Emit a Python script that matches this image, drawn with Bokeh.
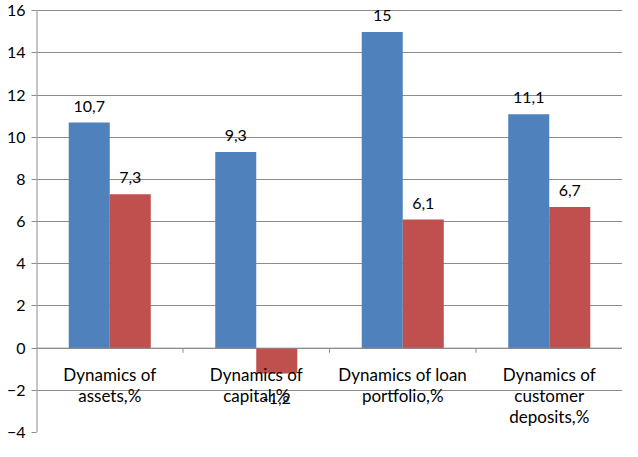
from bokeh.plotting import figure
from bokeh.models import Range1d, ColumnDataSource, FixedTicker
from bokeh.embed import file_html
from bokeh.resources import INLINE
from bokeh.core.properties import value

categories = ["Dynamics of\nassets,%", "Dynamics of\ncapital,%", "Dynamics of loan\nportfolio,%", "Dynamics of\ncustomer\ndeposits,%"]
series_a = [10.7, 9.3, 15, 11.1]
series_b = [7.3, -1.2, 6.1, 6.7]
y_ticks = [-4, -2, 0, 2, 4, 6, 8, 10, 12, 14, 16]

BLUE = "#4F81BD"
RED = "#C0504D"
GRID = "#8C8C8C"
FONT = "Lato"

def fmt(v):
    return ("%g" % v).replace(".", ",")

n = len(categories)
centers = [i + 0.5 for i in range(n)]
bw = 0.28
ymin, ymax = y_ticks[0], y_ticks[-1]

p = figure(width=622, height=441, x_range=Range1d(0, n), y_range=Range1d(ymin, ymax + 0.3),
           output_backend="svg", toolbar_location=None,
           min_border_left=36, min_border_right=0, min_border_top=4, min_border_bottom=9)
p.outline_line_color = None
p.xaxis.visible = False
p.xgrid.visible = False
p.ygrid.grid_line_color = GRID
p.ygrid.grid_line_width = 1
p.yaxis.ticker = FixedTicker(ticks=y_ticks)
p.yaxis.axis_line_color = None
p.yaxis.major_tick_line_color = GRID
p.yaxis.major_tick_out = 5
p.yaxis.major_tick_in = 0
p.yaxis.minor_tick_line_color = None
p.yaxis.major_label_text_font = FONT
p.yaxis.major_label_text_font_size = "16px"
p.yaxis.major_label_text_color = "black"
p.yaxis.major_label_standoff = 6

# vertical axis line spanning the tick range
p.segment(x0=[0], y0=[ymin], x1=[0], y1=[ymax], line_color=GRID, line_width=2)

src_a = ColumnDataSource(dict(x=[c - bw / 2 for c in centers], top=series_a,
                              lab=[fmt(v) for v in series_a]))
src_b = ColumnDataSource(dict(x=[c + bw / 2 for c in centers], top=series_b,
                              lab=[fmt(v) for v in series_b]))
p.vbar(x="x", top="top", bottom=0, width=bw, source=src_a, fill_color=BLUE, line_color=None)
p.vbar(x="x", top="top", bottom=0, width=bw, source=src_b, fill_color=RED, line_color=None)

# zero axis line
p.segment(x0=[0], y0=[0], x1=[n], y1=[0], line_color=GRID, line_width=1)
# category tick marks
bounds = list(range(1, n))
p.segment(x0=bounds, y0=[0] * len(bounds), x1=bounds, y1=[-0.22] * len(bounds),
          line_color=GRID, line_width=1)

# category labels
p.text(x=centers, y=[0] * n, text=categories, text_align="center", text_baseline="top",
       y_offset=16, text_line_height=1.0,
       text_font=value(FONT), text_font_size="17px", text_color="black")

# data labels
for src, vals in ((src_a, series_a), (src_b, series_b)):
    pos = [i for i, v in enumerate(vals) if v >= 0]
    neg = [i for i, v in enumerate(vals) if v < 0]
    d = src.data
    if pos:
        p.text(x=[d["x"][i] for i in pos], y=[d["top"][i] for i in pos], text=[d["lab"][i] for i in pos],
               text_align="center", text_baseline="bottom", y_offset=-11,
               text_font=value(FONT), text_font_size="16px", text_color="black")
    if neg:
        p.text(x=[d["x"][i] for i in neg], y=[d["top"][i] for i in neg], text=[d["lab"][i] for i in neg],
               text_align="center", text_baseline="top", y_offset=20,
               text_font=value(FONT), text_font_size="16px", text_color="black")

open("out.html", "w").write(file_html(p, INLINE))
